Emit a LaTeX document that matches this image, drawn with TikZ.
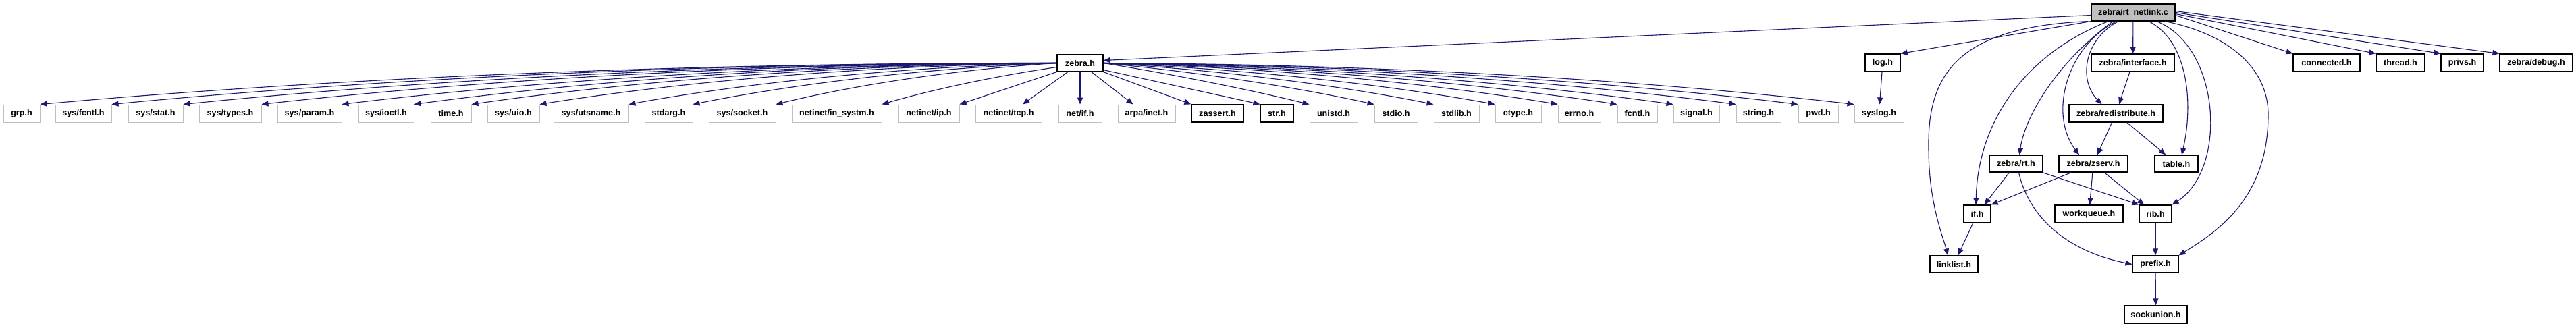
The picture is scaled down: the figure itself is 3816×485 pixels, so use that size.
\documentclass[tikz,border=0pt]{standalone}
\usepackage{fontspec}
\setmainfont{Liberation Sans}
\usetikzlibrary{arrows.meta,calc}
\definecolor{mblue}{HTML}{191970}
\definecolor{grayb}{HTML}{BFBFBF}
\tikzset{
  hdr/.style={draw=black, line width=1.2pt, fill=white, inner sep=0pt,
    minimum height=26pt, font=\fontsize{12.6}{14}\selectfont\bfseries, text=black},
  sysh/.style={hdr, draw=grayb, line width=1pt},
  rootn/.style={hdr, fill=grayb, minimum height=25pt},
  edge/.style={draw=mblue, line width=1.1pt, -{Triangle[length=10pt,width=8pt]}}
}
\newcommand\zedgeL[2]{\draw[edge] (zebra.west) .. controls ($(zebra.west)!0.35!(#1.north east)+(0,#2)$) and ($(zebra.west)!0.7!(#1.north east)+(0,#2)$) .. (#1.north east);}
\newcommand\zedgeR[2]{\draw[edge] (zebra.east) .. controls ($(zebra.east)!0.35!(#1.north west)+(0,#2)$) and ($(zebra.east)!0.7!(#1.north west)+(0,#2)$) .. (#1.north west);}
\begin{document}
\begin{tikzpicture}[x=1pt,y=1pt]
\useasboundingbox[fill=white] (0,0) rectangle (3816,-485);
% root
\node[rootn, minimum width=124pt] (root) at (3160,-18.5) {zebra/rt\_netlink.c};
% row 1
\node[hdr, minimum width=68pt, minimum height=25pt] (zebra) at (1600,-93.5) {zebra.h};
\node[hdr, minimum width=52pt] (log) at (2789,-93) {log.h};
\node[hdr, minimum width=123pt] (interface) at (3159.5,-93) {zebra/interface.h};
\node[hdr, minimum width=99pt] (connected) at (3446.5,-93) {connected.h};
\node[hdr, minimum width=72pt] (thread) at (3556,-93) {thread.h};
\node[hdr, minimum width=63pt] (privs) at (3647.5,-93) {privs.h};
\node[hdr, minimum width=108pt] (debug) at (3757,-93) {zebra/debug.h};
% row 2
\node[sysh, minimum width=54pt] (grp) at (32,-168) {grp.h};
\node[sysh, minimum width=83pt] (sysfcntl) at (123.5,-168) {sys/fcntl.h};
\node[sysh, minimum width=81pt] (sysstat) at (230.5,-168) {sys/stat.h};
\node[sysh, minimum width=92pt] (systypes) at (341,-168) {sys/types.h};
\node[sysh, minimum width=95pt] (sysparam) at (458.5,-168) {sys/param.h};
\node[sysh, minimum width=82pt] (sysioctl) at (572,-168) {sys/ioctl.h};
\node[sysh, minimum width=60pt] (time) at (668,-168) {time.h};
\node[sysh, minimum width=77pt] (sysuio) at (760.5,-168) {sys/uio.h};
\node[sysh, minimum width=111pt] (sysutsname) at (875.5,-168) {sys/utsname.h};
\node[sysh, minimum width=71pt] (stdarg) at (990.5,-168) {stdarg.h};
\node[sysh, minimum width=99pt] (syssocket) at (1099.5,-168) {sys/socket.h};
\node[sysh, minimum width=133pt] (insystm) at (1239.5,-168) {netinet/in\_systm.h};
\node[sysh, minimum width=90pt] (ip) at (1376,-168) {netinet/ip.h};
\node[sysh, minimum width=98pt] (tcp) at (1494,-168) {netinet/tcp.h};
\node[sysh, minimum width=64pt] (netif) at (1600,-168) {net/if.h};
\node[sysh, minimum width=85pt] (arpainet) at (1698.5,-168) {arpa/inet.h};
\node[hdr, minimum width=77pt] (zassert) at (1803.5,-168) {zassert.h};
\node[hdr, minimum width=49pt] (str) at (1891.5,-168) {str.h};
\node[sysh, minimum width=71pt] (unistd) at (1975.5,-168) {unistd.h};
\node[sysh, minimum width=64pt] (stdio) at (2068,-168) {stdio.h};
\node[sysh, minimum width=67pt] (stdlib) at (2157.5,-168) {stdlib.h};
\node[sysh, minimum width=68pt] (ctype) at (2249,-168) {ctype.h};
\node[sysh, minimum width=63pt] (errno) at (2339.5,-168) {errno.h};
\node[sysh, minimum width=59pt] (fcntl) at (2425.5,-168) {fcntl.h};
\node[sysh, minimum width=68pt] (signal) at (2513,-168) {signal.h};
\node[sysh, minimum width=66pt] (string) at (2605,-168) {string.h};
\node[sysh, minimum width=59pt] (pwd) at (2693.5,-168) {pwd.h};
\node[sysh, minimum width=73pt] (syslog) at (2783.5,-168) {syslog.h};
\node[hdr, minimum width=139pt] (redistribute) at (3134.5,-168) {zebra/redistribute.h};
% row 4
\node[hdr, minimum width=79pt, minimum height=25pt] (rt) at (2986.5,-242.5) {zebra/rt.h};
\node[hdr, minimum width=102pt, minimum height=25pt] (zserv) at (3101,-242.5) {zebra/zserv.h};
\node[hdr, minimum width=64pt, minimum height=25pt] (table) at (3224,-242.5) {table.h};
% row 5
\node[hdr, minimum width=40pt] (if) at (2929,-317) {if.h};
\node[hdr, minimum width=101pt] (workqueue) at (3094.5,-317) {workqueue.h};
\node[hdr, minimum width=48pt] (rib) at (3193,-317) {rib.h};
% row 6
\node[hdr, minimum width=71pt, minimum height=25pt] (linklist) at (2894.5,-391.5) {linklist.h};
\node[hdr, minimum width=68pt, minimum height=25pt] (prefix) at (3193,-391.5) {prefix.h};
% row 7
\node[hdr, minimum width=93pt] (sockunion) at (3193.5,-466) {sockunion.h};

% zebra.h edges, left side
\zedgeL{grp}{22}
\zedgeL{sysfcntl}{22}
\zedgeL{sysstat}{21}
\zedgeL{systypes}{21}
\zedgeL{sysparam}{20}
\zedgeL{sysioctl}{20}
\zedgeL{time}{19}
\zedgeL{sysuio}{18}
\zedgeL{sysutsname}{16}
\zedgeL{stdarg}{14}
\zedgeL{syssocket}{12}
\draw[edge] ([yshift=-6pt]zebra.west) .. controls ($([yshift=-6pt]zebra.west)!0.35!(insystm.north east)+(0,6)$) and ($([yshift=-6pt]zebra.west)!0.7!(insystm.north east)+(0,6)$) .. (insystm.north east);
\draw[edge] (zebra.south west) -- (ip.north east);
\draw[edge] (zebra) -- ([xshift=21pt]tcp.north);
\draw[edge] (zebra) -- (netif);
\draw[edge] (zebra) -- ([xshift=-20pt]arpainet.north);
% zebra.h edges, right side
\draw[edge] (zebra.south east) -- (zassert.north west);
\draw[edge] ([yshift=3pt]zebra.south east) -- (str.north west);
\zedgeR{unistd}{4}
\zedgeR{stdio}{8}
\zedgeR{stdlib}{11}
\zedgeR{ctype}{13}
\zedgeR{errno}{15}
\zedgeR{fcntl}{16}
\zedgeR{signal}{17}
\zedgeR{string}{18}
\zedgeR{pwd}{19}
\zedgeR{syslog}{20}

% root edges
\draw[edge] ([yshift=-4pt]root.west) -- ([yshift=4pt]zebra.east);
\draw[edge] (root.south west) -- (log.north east);
\draw[edge] ([xshift=-4pt]root.south west) .. controls (2900,-40) and (2855,-110) .. (2857,-220)
   .. controls (2857,-300) and (2878,-350) .. ([xshift=-9pt]linklist.north);
\draw[edge] ([xshift=-37pt]root.south) .. controls (3000,-80) and (2930,-180) .. ([xshift=-2pt]if.north);
\draw[edge] ([xshift=-30pt]root.south) .. controls (3050,-90) and (3000,-170) .. ([xshift=5pt]rt.north);
\draw[edge] ([xshift=-25pt]root.south) .. controls (3060,-70) and (3035,-170) .. ([xshift=-21pt]zserv.north);
\draw[edge] ([xshift=-22pt]root.south) .. controls (3085,-60) and (3080,-120) .. ([xshift=-21pt]redistribute.north);
\draw[edge] (root) -- (interface);
\draw[edge] ([xshift=23pt]root.south) .. controls (3240,-60) and (3250,-150) .. ([xshift=8pt]table.north);
\draw[edge] ([xshift=35pt]root.south) .. controls (3290,-70) and (3300,-250) .. (rib.north east);
\draw[edge] ([xshift=47pt]root.south) .. controls (3300,-50) and (3360,-100) .. (3360,-170)
   .. controls (3360,-290) and (3290,-340) .. (prefix.north east);
\draw[edge] ([yshift=-4pt]root.east) -- (connected.north west);
\draw[edge] ([yshift=-2pt]root.east) -- (thread.north west);
\draw[edge] ([yshift=0pt]root.east) -- (privs.north west);
\draw[edge] ([yshift=2pt]root.east) -- (debug.north west);

% inner edges
\draw[edge] (log) -- (syslog);
\draw[edge] (interface) -- (redistribute);
\draw[edge] (redistribute) -- (zserv);
\draw[edge] (redistribute) -- (table);
\draw[edge] (rt) -- (if);
\draw[edge] (rt) -- (rib.north west);
\draw[edge] ([xshift=4pt]rt.south) .. controls (3005,-320) and (3060,-372) .. (prefix.west);
\draw[edge] (zserv) -- (if.north east);
\draw[edge] (zserv) -- (workqueue);
\draw[edge] (zserv) -- (rib);
\draw[edge] (if) -- (linklist);
\draw[edge] (rib) -- (prefix);
\draw[edge] (prefix) -- (sockunion);
\end{tikzpicture}
\end{document}
